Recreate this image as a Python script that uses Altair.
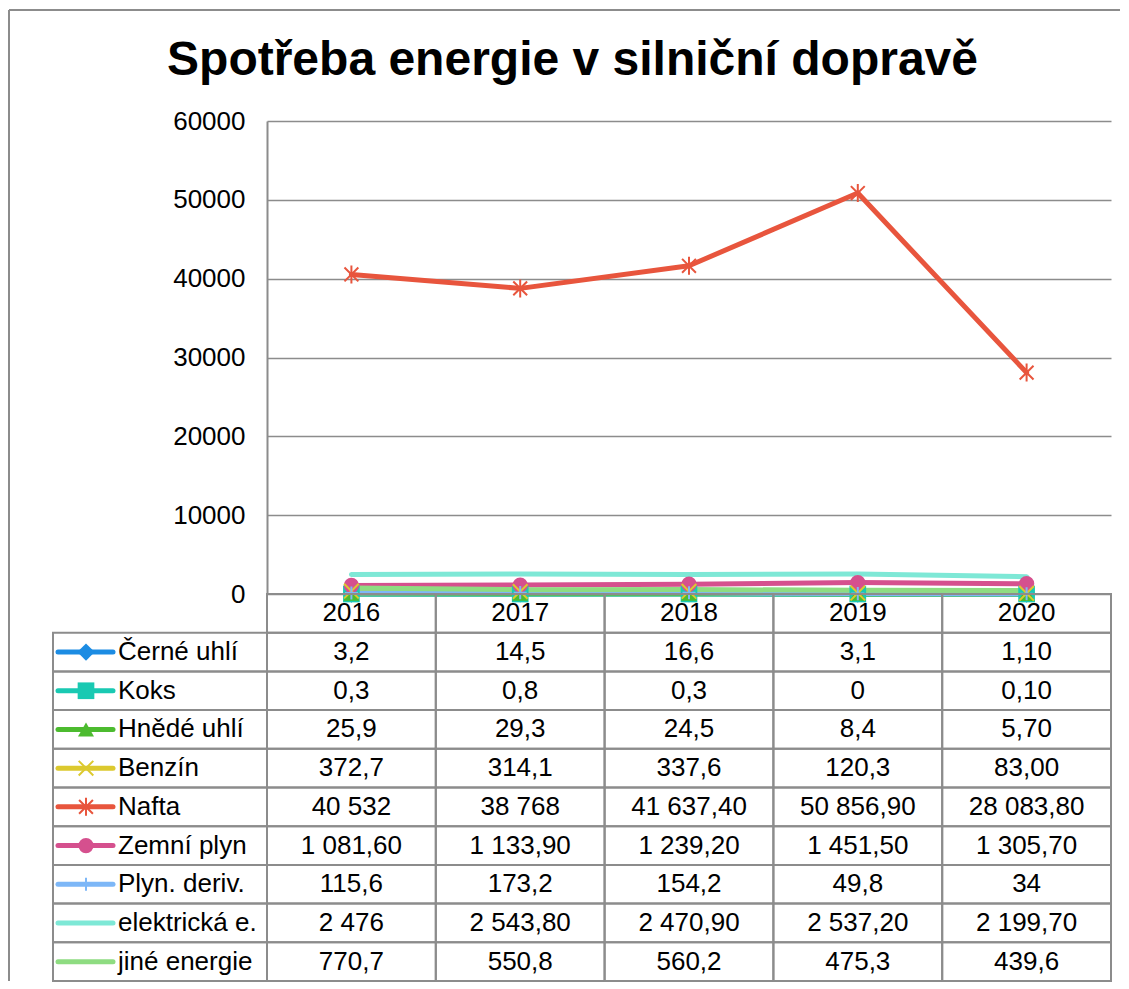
import altair as alt
import pandas as pd

# ---------------- data ----------------
years = ["2016", "2017", "2018", "2019", "2020"]
series = ["Černé uhlí", "Koks", "Hnědé uhlí", "Benzín", "Nafta",
          "Zemní plyn", "Plyn. deriv.", "elektrická e.", "jiné energie"]

cerne_uhli = [3.2, 14.5, 16.6, 3.1, 1.1]
koks = [0.3, 0.8, 0.3, 0, 0.1]
hnede_uhli = [25.9, 29.3, 24.5, 8.4, 5.7]
benzin = [372.7, 314.1, 337.6, 120.3, 83.0]
nafta = [40532, 38768, 41637.4, 50856.9, 28083.8]
zemni_plyn = [1081.6, 1133.9, 1239.2, 1451.5, 1305.7]
plyn_deriv = [115.6, 173.2, 154.2, 49.8, 34]
elektricka = [2476, 2543.8, 2470.9, 2537.2, 2199.7]
jine = [770.7, 550.8, 560.2, 475.3, 439.6]

cerne_uhli_lbl = ["3,2", "14,5", "16,6", "3,1", "1,10"]
koks_lbl = ["0,3", "0,8", "0,3", "0", "0,10"]
hnede_uhli_lbl = ["25,9", "29,3", "24,5", "8,4", "5,70"]
benzin_lbl = ["372,7", "314,1", "337,6", "120,3", "83,00"]
nafta_lbl = ["40 532", "38 768", "41 637,40", "50 856,90", "28 083,80"]
zemni_plyn_lbl = ["1 081,60", "1 133,90", "1 239,20", "1 451,50", "1 305,70"]
plyn_deriv_lbl = ["115,6", "173,2", "154,2", "49,8", "34"]
elektricka_lbl = ["2 476", "2 543,80", "2 470,90", "2 537,20", "2 199,70"]
jine_lbl = ["770,7", "550,8", "560,2", "475,3", "439,6"]

values = [cerne_uhli, koks, hnede_uhli, benzin, nafta, zemni_plyn,
          plyn_deriv, elektricka, jine]
labels = [cerne_uhli_lbl, koks_lbl, hnede_uhli_lbl, benzin_lbl, nafta_lbl,
          zemni_plyn_lbl, plyn_deriv_lbl, elektricka_lbl, jine_lbl]

y_ticks = [0, 10000, 20000, 30000, 40000, 50000, 60000]

# ---------------- styles ----------------
colors = ["#1C8CE3", "#19C9B2", "#4CBB2F", "#DCC92E", "#E8553D",
          "#D5508E", "#7DB7F7", "#7EE8D6", "#8EDC81"]
filled_series = ["Černé uhlí", "Koks", "Hnědé uhlí", "Zemní plyn"]
filled_shapes = ["diamond", "square", "triangle-up", "circle"]
filled_sizes = [300, 170, 230, 200]
stroked_series = ["Benzín", "Nafta", "Plyn. deriv."]
stroked_shapes = ["M-1,-1L1,1M1,-1L-1,1",
                  "M-1,-1L1,1M1,-1L-1,1M0,-1.3L0,1.3",
                  "M0,-1L0,1M-1,0L1,0"]
stroked_sizes = [200, 320, 220]

FONT = "Liberation Sans"
GRID = "#8C8C8C"
FRAME = "#8C8C8C"
HDR = "_hdr"
rows = [HDR] + series

color_scale = alt.Scale(domain=series, range=colors)
shape_scale = alt.Scale(domain=filled_series + stroked_series,
                        range=filled_shapes + stroked_shapes)
size_scale = alt.Scale(domain=filled_series + stroked_series,
                       range=filled_sizes + stroked_sizes)

recs = []
for si, s in enumerate(series):
    for yi, yr in enumerate(years):
        recs.append({"series": s, "row": s, "year": yr,
                     "value": values[si][yi], "label": labels[si][yi],
                     "k": si})
df = pd.DataFrame(recs)
hdr_df = pd.DataFrame({"row": [HDR] * len(years), "year": years, "label": years})
table_df = pd.concat([hdr_df, df[["row", "year", "label"]]], ignore_index=True)
legend_df = pd.DataFrame({"series": series, "row": series})

PLOT_W, PLOT_H = 844, 473
LEG_W = 214
TABLE_H = 387

col = alt.Color("series:N", scale=color_scale, legend=None)
shp = alt.Shape("series:N", scale=shape_scale, legend=None)
siz = alt.Size("series:N", scale=size_scale, legend=None)
f_filled = alt.FieldOneOfPredicate(field="series", oneOf=filled_series)
f_stroked = alt.FieldOneOfPredicate(field="series", oneOf=stroked_series)

# ---------------- top: line chart ----------------
xpos = alt.X("year:O", scale=alt.Scale(domain=years, type="point", padding=0.5), axis=None)
ypos = alt.Y("value:Q", scale=alt.Scale(domain=[0, 60000], nice=False),
             axis=alt.Axis(values=y_ticks, format="d", title=None, grid=True,
                           gridColor=GRID, gridWidth=1.5, domainColor=GRID,
                           domainWidth=2, ticks=False, labelFontSize=26,
                           labelFont=FONT, labelColor="black", labelPadding=22))

base = alt.Chart(df)
lines = base.mark_line(strokeWidth=5, strokeCap="round", strokeJoin="round").encode(
    x=xpos, y=ypos, color=col, detail="series:N")
pts_f = base.transform_filter(f_filled).mark_point(filled=True, opacity=1).encode(
    x=xpos, y=ypos, color=col, shape=shp, size=siz)
pts_s = base.transform_filter(f_stroked).mark_point(
    filled=False, opacity=1, strokeWidth=2).encode(
    x=xpos, y=ypos, color=col, shape=shp, size=siz)

plot = alt.layer(lines, pts_f, pts_s).properties(width=PLOT_W, height=PLOT_H)

# spacer cell (left of the plot) that also carries the outer chart frame
frame_src = alt.Chart(pd.DataFrame({"a": [0]}))
frame_top = frame_src.mark_rule(color=FRAME, strokeWidth=2).encode(
    x=alt.value(-44), x2=alt.value(1067), y=alt.value(-111))
frame_left = frame_src.mark_rule(color=FRAME, strokeWidth=2).encode(
    x=alt.value(-44), y=alt.value(-111), y2=alt.value(860))
spacer = alt.layer(frame_top, frame_left).properties(width=LEG_W, height=PLOT_H)

# ---------------- bottom: data table ----------------
yrow = alt.Y("row:N", scale=alt.Scale(domain=rows, paddingInner=0, paddingOuter=0), axis=None)
xcol = alt.X("year:N", scale=alt.Scale(domain=years, paddingInner=0, paddingOuter=0), axis=None)

tbase = alt.Chart(table_df)
cells = tbase.mark_rect(fill="white", fillOpacity=0, stroke=GRID, strokeWidth=2).encode(
    x=xcol, y=yrow)
ctext = tbase.mark_text(font=FONT, fontSize=26, color="black", baseline="middle").encode(
    x=xcol, y=yrow, text="label:N")
table = alt.layer(cells, ctext).properties(width=PLOT_W, height=TABLE_H)

lbase = alt.Chart(legend_df)
lcells = lbase.mark_rect(fill="white", fillOpacity=0, stroke=GRID, strokeWidth=2).encode(y=yrow)
lkeys = lbase.mark_rule(strokeWidth=5, strokeCap="round").encode(
    x=alt.value(5), x2=alt.value(60), y=yrow, color=col)
lpf = lbase.transform_filter(f_filled).mark_point(filled=True, opacity=1).encode(
    x=alt.value(33), y=yrow, color=col, shape=shp, size=siz)
lps = lbase.transform_filter(f_stroked).mark_point(
    filled=False, opacity=1, strokeWidth=2).encode(
    x=alt.value(33), y=yrow, color=col, shape=shp, size=siz)
ltext = lbase.mark_text(font=FONT, fontSize=26, color="black", align="left",
                        baseline="middle").encode(x=alt.value(65), y=yrow, text="series:N")
legend_col = alt.layer(lcells, lkeys, lpf, lps, ltext).properties(width=LEG_W, height=TABLE_H)

chart = alt.concat(spacer, plot, legend_col, table, columns=2, spacing=0,
                   bounds="flush").properties(
    title=alt.TitleParams("Spotřeba energie v silniční dopravě", font=FONT,
                          fontSize=48, fontWeight="bold", color="black",
                          anchor="middle", dx=8, offset=-76),
    padding={"left": 0, "top": 1, "right": 0, "bottom": 0},
).configure_view(stroke=None)

chart.save("out.html", embed_options={"renderer": "svg", "actions": False})
